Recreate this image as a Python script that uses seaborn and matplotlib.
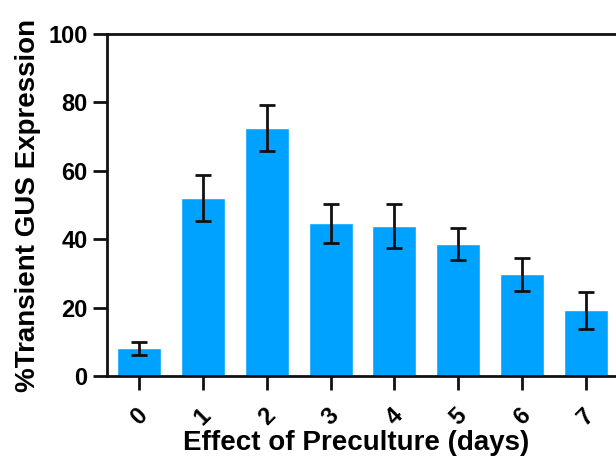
import numpy as np
import pandas as pd
import matplotlib
matplotlib.use('Agg')
import matplotlib.pyplot as plt
import seaborn as sns

# ------------------------------------------------------------
# DATA
# ------------------------------------------------------------
days = ['0', '1', '2', '3', '4', '5', '6', '7']
gus_expr = [8.2, 52.0, 72.5, 44.6, 43.8, 38.7, 29.7, 19.2]
gus_err = [1.9, 6.8, 6.7, 5.7, 6.4, 4.7, 4.7, 5.3]

df = pd.DataFrame({'days': days, 'expr': gus_expr})

# ------------------------------------------------------------
# PLOT
# ------------------------------------------------------------
sns.set_style('ticks')
plt.rcParams['font.family'] = ['Liberation Sans', 'DejaVu Sans']
plt.rcParams['font.weight'] = 'bold'
plt.rcParams['axes.labelweight'] = 'bold'
plt.rcParams['text.color'] = 'black'
plt.rcParams['axes.labelcolor'] = 'black'
plt.rcParams['xtick.color'] = 'black'
plt.rcParams['ytick.color'] = 'black'

fig = plt.figure(figsize=(6.16, 4.57), dpi=100)
ax = fig.add_axes([0.174, 0.177, 0.829, 0.749])

sns.barplot(data=df, x='days', y='expr', color='#00A2FF', saturation=1,
            width=0.69, ax=ax, errorbar=None)
ax.errorbar(np.arange(len(days)), gus_expr, yerr=gus_err, fmt='none',
            ecolor='#111111', elinewidth=2, capsize=6, capthick=2)

ax.set_xlim(-0.5, 7.5)
ax.set_ylim(0, 100)
ax.set_yticks([0, 20, 40, 60, 80, 100])

for s in ax.spines.values():
    s.set_linewidth(2)
    s.set_color('#111111')

ax.tick_params(axis='both', width=2, length=10, color='#111111',
               labelsize=17, pad=4, labelcolor='black')
ax.tick_params(axis='x', pad=10)
plt.setp(ax.get_xticklabels(), rotation=45, ha='center', fontweight='bold')
plt.setp(ax.get_yticklabels(), fontweight='bold')

ax.set_xlabel('Effect of Preculture (days)', fontsize=20, fontweight='bold')
ax.xaxis.set_label_coords(0.487, -0.158)
ax.set_ylabel('%Transient GUS Expression', fontsize=20, fontweight='bold',
              labelpad=5)

plt.savefig('out.png', dpi=100)
